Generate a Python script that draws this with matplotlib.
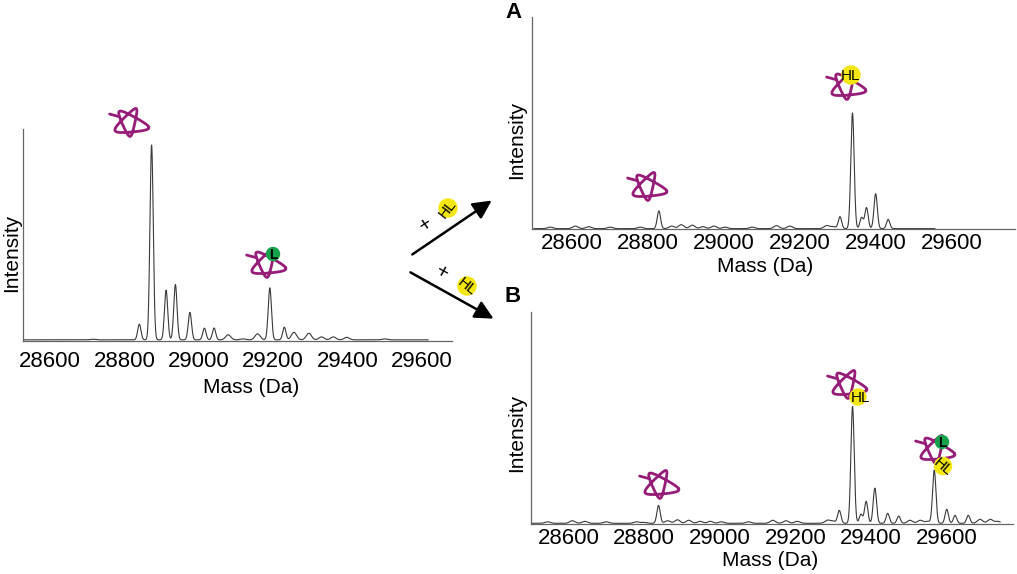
import numpy as np
import matplotlib
matplotlib.use('Agg')
import matplotlib.pyplot as plt
from matplotlib.patches import Circle

plt.rcParams['font.family'] = ['Liberation Sans', 'DejaVu Sans']

# ---------------- data (peak centres in Da, relative intensity %) ----------------
start_mass = [28530, 28500, 28500]
end_mass   = [29617, 29556, 29741]

left_centres = [28716, 28840, 28873, 28912, 28937, 28976, 29015, 29041, 29079, 29119,
                29158, 29191, 29230, 29256, 29296, 29330, 29362, 29398, 29500]
left_heights = [0.3, 8.0, 100, 25.5, 28.4, 14.1, 6.0, 6.1, 2.6, 0.5,
                3.1, 26.7, 6.5, 3.9, 3.4, 1.5, 1.5, 1.3, 0.5]

a_centres = [28543, 28609, 28644, 28701, 28780, 28829, 28863, 28888, 28917, 28945,
             28974, 29004, 29075, 29139, 29174, 29271, 29288, 29306, 29339, 29363,
             29376, 29400, 29433]
a_heights = [1.3, 2.2, 1.7, 1.3, 1.3, 15.3, 2.2, 3.4, 3.0, 1.7,
             2.2, 1.3, 1.3, 2.6, 2.2, 2.6, 1.7, 10.3, 100, 9.5,
             18.1, 30.2, 8.0]

b_centres = [28545, 28610, 28643, 28700, 28780, 28800, 28838, 28862, 28888, 28918,
             28948, 28975, 29004, 29076, 29140, 29175, 29205, 29285, 29300, 29316,
             29351, 29373, 29387, 29410, 29444, 29473, 29503, 29530, 29550, 29567,
             29600, 29622, 29657, 29688, 29715, 29735]
b_heights = [1.3, 2.2, 1.7, 1.3, 1.3, 0.8, 15.3, 2.2, 3.0, 2.6,
             1.7, 1.7, 1.3, 1.3, 2.6, 2.2, 1.7, 2.6, 1.7, 11.0,
             100, 7.7, 18.8, 30.1, 8.5, 6.2, 2.6, 2.6, 1.7, 45.4,
             12.0, 6.8, 6.8, 3.4, 3.4, 1.7]

mass_ticks = [28600, 28800, 29000, 29200, 29400, 29600]

PURPLE = '#961E78'
YELLOW = '#F4E711'
GREEN  = '#16A24A'
LINE   = '#3a3a3a'


def spectrum(lo, hi, centres, heights):
    x = np.linspace(lo, hi, 4000)
    y = np.zeros_like(x)
    for c, h in zip(centres, heights):
        sig = 4.4 if h > 5 else 7.0
        y += h * np.exp(-0.5 * ((x - c) / sig) ** 2)
    return x, y


fig = plt.figure(figsize=(10.17, 5.74), dpi=100)

# axes placed to match the panel layout (left, A, B)
ax_l = fig.add_axes([0.0226, 0.4059, 0.4218, 0.3693])
ax_a = fig.add_axes([0.5228, 0.6005, 0.4752, 0.3699])
ax_b = fig.add_axes([0.5218, 0.0871, 0.4742, 0.3699])

panels = [
    (ax_l, left_centres, left_heights, 0, (28527, 29681), 108.2, 7.0, (0.531, -0.219), (-0.026, 0.414)),
    (ax_a, a_centres, a_heights, 1, (28494, 29767), 183.0, 2.7, (0.482, -0.176), (-0.031, 0.421)),
    (ax_b, b_centres, b_heights, 2, (28500, 29775), 181.0, 2.8, (0.496, -0.170), (-0.029, 0.427)),
]

for ax, cen, hts, k, xl, ytop, pad, xlab, ylab in panels:
    x, y = spectrum(start_mass[k], end_mass[k], cen, hts)
    ax.plot(x, y, color=LINE, lw=0.8)
    ax.set_xlim(*xl)
    ax.set_ylim(-0.6, ytop)
    ax.set_xticks(mass_ticks)
    ax.set_yticks([])
    ax.tick_params(axis='x', length=0, pad=pad, labelsize=16)
    for s in ['top', 'right']:
        ax.spines[s].set_visible(False)
    for s in ['left', 'bottom']:
        ax.spines[s].set_color('#666666')
        ax.spines[s].set_linewidth(0.9)
    ax.set_xlabel('Mass (Da)', fontsize=15)
    ax.xaxis.label.set_va('center')
    ax.xaxis.set_label_coords(*xlab)
    ax.set_ylabel('Intensity', fontsize=15)
    ax.yaxis.label.set_va('center')
    ax.yaxis.set_label_coords(*ylab)
    ax.patch.set_alpha(0)

# ---------------- overlay in pixel coordinates for icons / arrows ----------------
ov = fig.add_axes([0, 0, 1, 1], zorder=10)
ov.set_xlim(0, 1017)
ov.set_ylim(574, 0)
ov.axis('off')


def protein(cx, cy, w=34, h=28):
    # tangled ribbon icon
    t = np.linspace(0, 2 * np.pi, 600)
    px = np.cos(2 * t) + 0.38 * np.cos(-3 * t + 0.5) + 0.2 * np.cos(t)
    py = np.sin(2 * t) + 0.38 * np.sin(-3 * t + 0.5) + 0.18 * np.sin(t + 1.0)
    px = cx + (px - px.mean()) / np.ptp(px) * w
    py = cy + (py - py.mean()) / np.ptp(py) * h
    ov.plot(px, py, color=PURPLE, lw=2.0, solid_capstyle='round')
    ov.plot([cx - w * 0.6, cx - w * 0.3], [cy - h * 0.32, cy - h * 0.22],
            color=PURPLE, lw=2.0, solid_capstyle='round')


def hl_tag(cx, cy, r=8.5, rot=0, tx=None):
    ov.add_patch(Circle((cx, cy), r, color=YELLOW, zorder=11))
    ov.text(cx if tx is None else tx, cy + 1, 'HL', fontsize=11, rotation=rot,
            ha='center', va='center', color='black', zorder=12,
            rotation_mode='anchor')


def l_tag(cx, cy, r=6.5):
    ov.add_patch(Circle((cx, cy), r, color=GREEN, zorder=11))
    ov.text(cx, cy + 1, 'L', fontsize=10, fontweight='bold', ha='center',
            va='center', color='black', zorder=12)


# left panel
protein(130, 123)
protein(267, 264)
l_tag(273, 254)

# panel A
protein(648, 187)
protein(847, 86)
hl_tag(851, 75, r=9)

# panel B
protein(660, 485)
protein(848, 385)
hl_tag(858, 397, r=8, tx=861)
protein(936, 450)
l_tag(942, 442)
hl_tag(943, 466, r=8.5, rot=-40)

# arrows
ov.annotate('', xy=(494, 199), xytext=(410, 256),
            arrowprops=dict(arrowstyle='-|>', color='black', lw=1.8, mutation_scale=28))
ov.annotate('', xy=(496, 320), xytext=(408, 271),
            arrowprops=dict(arrowstyle='-|>', color='black', lw=1.8, mutation_scale=28))
ov.text(426, 225, '+', fontsize=15, rotation=34, ha='center', va='center')
hl_tag(448, 208, r=9, rot=52)
ov.text(442, 273, '+', fontsize=15, rotation=-29, ha='center', va='center')
hl_tag(467, 286, r=9, rot=-38)

# panel letters
ov.text(513, 12, 'A', fontsize=16, fontweight='bold', ha='center', va='center')
ov.text(513, 296, 'B', fontsize=16, fontweight='bold', ha='center', va='center')

fig.savefig('out.png', dpi=100)
